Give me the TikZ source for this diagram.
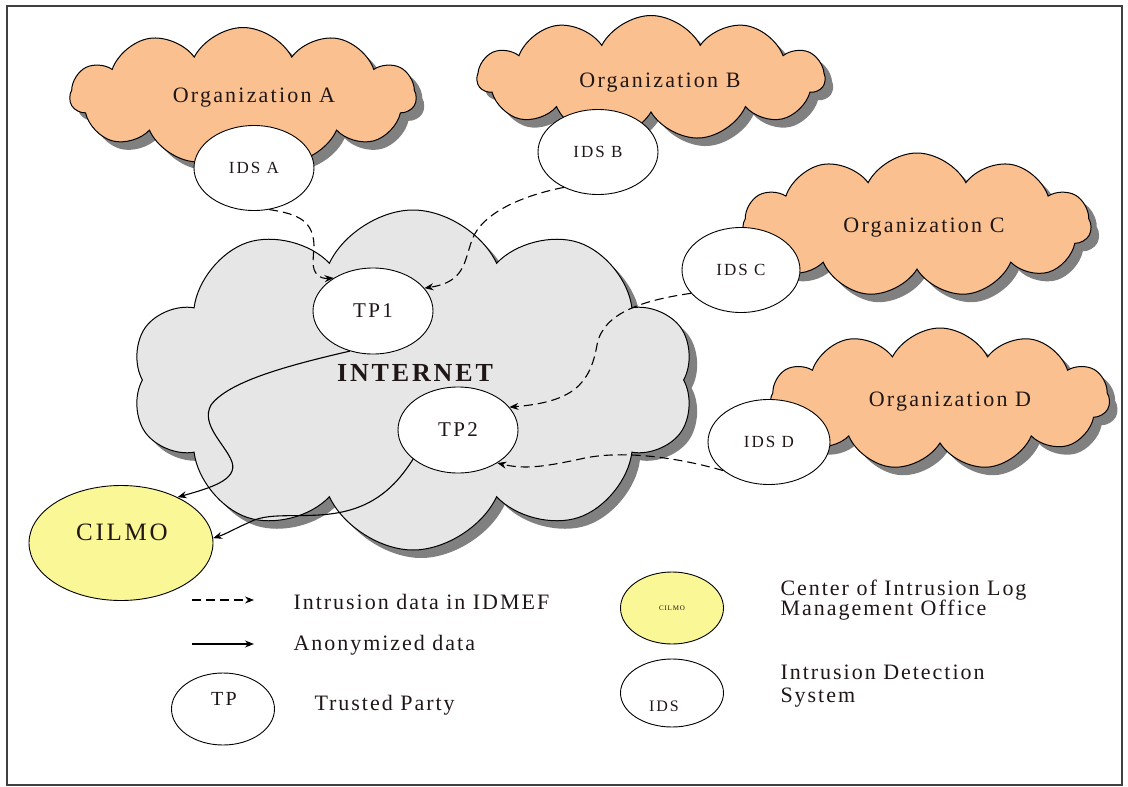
\documentclass[tikz,border=0pt]{standalone}
\usepackage{fontspec}
\setmainfont{Liberation Serif}
\newfontfamily\orgfont[LetterSpace=10]{Liberation Serif}
\newfontfamily\legfont[LetterSpace=9]{Liberation Serif}
\newfontfamily\idsfont[LetterSpace=12]{Liberation Serif}
\newfontfamily\bigfont[LetterSpace=11]{Liberation Serif}
\newfontfamily\netfont[LetterSpace=11]{Liberation Serif}
\usetikzlibrary{shapes.symbols,shapes.geometric,shadows,arrows.meta}
\definecolor{peach}{HTML}{FAC08F}
\definecolor{netgray}{HTML}{E6E6E6}
\definecolor{shadowgray}{HTML}{808080}
\definecolor{cilmoyellow}{HTML}{FAF796}
\definecolor{txt}{HTML}{201616}
\begin{document}
\begin{tikzpicture}[x=1pt,y=-1pt,
  cloudbase/.style={cloud, draw=black, line width=1pt, inner sep=0pt,
    drop shadow={shadow xshift=8pt, shadow yshift=-8pt, fill=shadowgray, opacity=1}},
  orgcloud/.style={cloudbase, cloud puffs=11, cloud puff arc=125, fill=peach},
  netcloud/.style={cloudbase, cloud puffs=10, cloud puff arc=130, fill=netgray},
  idsnode/.style={ellipse, draw=black, line width=0.9pt, fill=white, minimum width=120, minimum height=85, inner sep=0pt, text=txt, font=\idsfont\fontsize{17}{19}\selectfont},
  tpnode/.style={ellipse, draw=black, line width=0.9pt, fill=white, minimum width=120, minimum height=86, inner sep=0pt, text=txt, font=\bigfont\fontsize{21}{24}\selectfont},
  legcircle/.style={ellipse, draw=black, line width=0.9pt, minimum width=103, inner sep=0pt},
  orgtext/.style={text=txt, font=\orgfont\fontsize{22}{26}\selectfont},
  legtext/.style={text=txt, font=\legfont\fontsize{22}{22}\selectfont, anchor=west, align=left},
  dataflow/.style={draw=black, line width=1.1pt, dash pattern=on 9pt off 5pt, -{Stealth[length=9pt,width=7pt]}},
  anonflow/.style={draw=black, line width=1.1pt, -{Stealth[length=9pt,width=7pt]}}
]
\useasboundingbox (0,0) rectangle (1128,787);
\fill[white] (0,0) rectangle (1128,787);
\draw[line width=1.5pt, black!75] (7,6) rectangle (1122,785);

% organization clouds
\node[orgcloud, minimum width=346, minimum height=137] (orgA) at (243,96) {};
\node[orgcloud, minimum width=347, minimum height=125] (orgB) at (651,78) {};
\node[orgcloud, minimum width=348, minimum height=144] (orgC) at (917,225) {};
\node[orgcloud, minimum width=339, minimum height=142] (orgD) at (940,399) {};
\node[orgtext] (orgAt) at (254,98) {Organization A};
\node[orgtext] (orgBt) at (660,83) {Organization B};
\node[orgtext] (orgCt) at (924,228) {Organization C};
\node[orgtext] (orgDt) at (950,402) {Organization D};

% internet cloud
\node[netcloud, minimum width=563, minimum height=340] (net) at (413,380) {};
\node[text=txt, font=\netfont\bfseries\fontsize{26}{30}\selectfont] (nett) at (415,373) {INTERNET};

% IDS nodes
\node[idsnode] (idsA) at (254,168) {IDS A};
\node[idsnode] (idsB) at (598,152) {IDS B};
\node[idsnode, minimum width=118] (idsC) at (741,270) {IDS C};
\node[idsnode, minimum width=122] (idsD) at (769,442) {IDS D};

% trusted parties
\node[tpnode] (tp1) at (373,311) {TP1};
\node[tpnode] (tp2) at (458,430) {TP2};

% CILMO
\node[ellipse, draw=black, line width=0.9pt, fill=cilmoyellow, minimum width=184, minimum height=115, inner sep=0pt] (cilmo) at (121,543) {};
\node[text=txt, font=\bigfont\fontsize{25}{28}\selectfont] (cilmot) at (122,532) {CILMO};

% dashed intrusion data
\draw[dataflow] (idsA.-70) .. controls (300,214) and (313,222) .. (314,245) -- (313,262) .. controls (313,274) and (320,279) .. (tp1.140);
\draw[dataflow] (idsB.226) .. controls (525,195) and (482,212) .. (472,240) .. controls (464,262) and (465,282) .. (tp1.24);
\draw[dataflow] (idsC.205) .. controls (645,300) and (603,312) .. (597,345) .. controls (590,385) and (572,402) .. (tp2.24);
\draw[dataflow] (idsD.212) .. controls (680,458) and (625,450) .. (585,458) .. controls (548,466) and (526,470) .. (tp2.-40);

% anonymized data
\draw[anonflow] (tp1.240) .. controls (285,366) and (228,382) .. (211,405) .. controls (200,425) and (226,445) .. (232,462) .. controls (238,480) and (210,488) .. (cilmo.39);
\draw[anonflow] (tp2.213) .. controls (402,476) and (385,500) .. (350,510) .. controls (312,521) and (272,510) .. (250,522) .. controls (236,528) and (226,534) .. (cilmo.3);

% legend
\coordinate (l1a) at (192,600);
\coordinate (l1b) at (254,600);
\coordinate (l2a) at (192,644);
\coordinate (l2b) at (254,644);
\draw[dataflow] (l1a) -- (l1b);
\draw[anonflow] (l2a) -- (l2b);
\node[legtext] (lg1) at (290,602) {Intrusion data in IDMEF};
\node[legtext] (lg2) at (290,645) {Anonymized data};
\node[legcircle, fill=white, minimum height=72] (lgtp) at (223,709) {};
\node[text=txt, font=\bigfont\fontsize{20}{22}\selectfont] (lgtpt) at (224,699) {TP};
\node[legtext] (lg3) at (311,705) {Trusted Party};
\node[legcircle, fill=cilmoyellow, minimum height=72, text=txt, font=\bigfont\fontsize{7}{8}\selectfont] (lgcilmo) at (672,608) {CILMO};
\node[legcircle, fill=white, minimum height=68] (lgids) at (672,693) {};
\node[text=txt, font=\idsfont\fontsize{16}{18}\selectfont] (lgidst) at (664,706) {IDS};
\node[legtext, font=\legfont\fontsize{22}{20.5}\selectfont] (lg4) at (777,600) {Center of Intrusion Log\\Management Office};
\node[legtext, font=\legfont\fontsize{22}{22.5}\selectfont] (lg5) at (777,686) {Intrusion Detection\\System};
\end{tikzpicture}
\end{document}
